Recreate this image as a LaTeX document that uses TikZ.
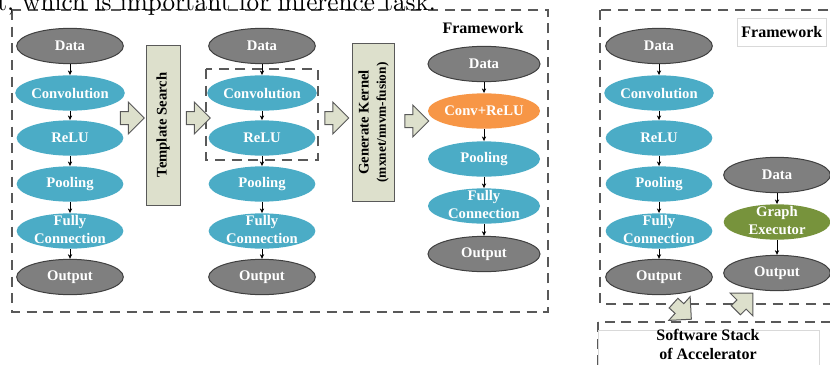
\documentclass[tikz,border=0pt]{standalone}
\usepackage{fontspec}
\newfontfamily\lblfont{Liberation Serif}
\newfontfamily\spillfont{lmroman10-regular.otf}
\usetikzlibrary{shapes.geometric,shapes.arrows,arrows.meta}

\definecolor{iogray}{HTML}{7F7F7F}
\definecolor{iorim}{HTML}{404040}
\definecolor{layerblue}{HTML}{4BACC6}
\definecolor{fuseorange}{HTML}{F79646}
\definecolor{execgreen}{HTML}{77933C}
\definecolor{passfill}{HTML}{DDE0CC}
\definecolor{passrim}{HTML}{595959}
\definecolor{dashgray}{HTML}{595959}
\definecolor{lightrim}{HTML}{D9D9D9}

\newcommand{\twoline}[2]{\raisebox{-2.75pt}[0pt][0pt]{\begin{tabular}{@{}c@{}}#1\\#2\end{tabular}}}

\tikzset{
  op/.style={ellipse, minimum width=80pt, minimum height=26.5pt, inner sep=0pt,
    text=white, font=\lblfont\bfseries\fontsize{11}{13}\selectfont},
  io/.style={op, fill=iogray, draw=iorim, line width=0.75pt},
  layer/.style={op, fill=layerblue},
  fused/.style={op, fill=fuseorange},
  exec/.style={op, fill=execgreen},
  flow/.style={-{Stealth[length=3.5pt,width=3.2pt]}, line width=0.5pt},
  passbox/.style={draw=passrim, fill=passfill, line width=0.75pt, rotate=90,
    align=center, font=\lblfont\bfseries\fontsize{11}{13}\selectfont},
  fatarrow/.style={single arrow, draw=passrim, fill=passfill, line width=0.75pt,
    minimum height=18pt, minimum width=15pt, inner sep=4.5pt},
  region/.style={draw=dashgray, line width=0.9pt, dash pattern=on 7.5pt off 5pt},
  title/.style={font=\lblfont\bfseries\fontsize{12}{14.25}\selectfont, align=center},
}

\begin{document}
\begin{tikzpicture}[x=0.75pt,y=-0.75pt]
\useasboundingbox (0,0) rectangle (830,364);

% framework regions
\draw[region] (12,10) rectangle (548,312);
\draw[region] (600,10) rectangle (870,304);
\draw[region] (598,322) rectangle (870,400);
\node[anchor=base west, inner sep=0pt, font=\spillfont\fontsize{18.9}{22}\selectfont] (spill) at (-3,10.5) {t, which is important for inference task.};

% the three unfused graphs
\foreach \col/\x in {a/70,b/262,d/659}{
  \node[io] (\col1) at (\x,46) {Data};
  \node[layer] (\col2) at (\x,93) {Convolution};
  \node[layer] (\col3) at (\x,138) {ReLU};
  \node[layer] (\col4) at (\x,184) {Pooling};
  \node[layer] (\col5) at (\x,231) {\twoline{Fully}{Connection}};
  \node[io] (\col6) at (\x,277) {Output};
  \foreach \i [count=\j from 2] in {1,...,5} \draw[flow] (\col\i) -- (\col\j);
}
\draw[region] (206,69) rectangle (318,160);

% passes
\node[passbox, minimum width=120pt, minimum height=25.5pt] (search) at (163,125) {Template Search};
\node[passbox, minimum width=119pt, minimum height=32pt] (kernel) at (373.5,122.5)
  {Generate Kernel\\{\fontsize{10}{12}\selectfont(mxnet/nnvm-fusion)}};
\node[fatarrow] (ar1) at (129,118) {};
\node[fatarrow] (ar2) at (195,118) {};
\node[fatarrow] (ar3) at (333.5,118) {};
\node[fatarrow] (ar4) at (413.5,121) {};

% fused graph
\node[title] (fw1) at (483,28) {Framework};
\node[io, minimum width=84pt] (c1) at (484,64) {Data};
\node[fused, minimum width=84pt] (c2) at (484,111) {Conv+ReLU};
\node[layer, minimum width=84pt] (c3) at (484,159) {Pooling};
\node[layer, minimum width=84pt] (c4) at (484,206) {\twoline{Fully}{Connection}};
\node[io, minimum width=84pt] (c5) at (484,254) {Output};
\foreach \i [count=\j from 2] in {1,...,4} \draw[flow] (c\i) -- (c\j);

% accelerator side
\node[title, draw=lightrim, fill=white, line width=0.6pt, anchor=west, minimum height=21pt, inner xsep=3pt] (fw2) at (737,32) {Framework};
\node[io] (e1) at (777,175) {Data};
\node[exec] (e2) at (777,222) {\twoline{Graph}{Executor}};
\node[io] (e3) at (777,273) {Output};
\draw[flow] (e1) -- (e2);
\draw[flow] (e2) -- (e3);

\draw[draw=lightrim, fill=white, line width=0.6pt] (598,330) rectangle (819,400);
\node[title] (stack) at (708,344.5) {Software Stack\\of Accelerator};
\node[fatarrow, rotate=-42] (down) at (680,309) {};
\node[fatarrow, rotate=45] (up) at (742,304) {};
\end{tikzpicture}
\end{document}
